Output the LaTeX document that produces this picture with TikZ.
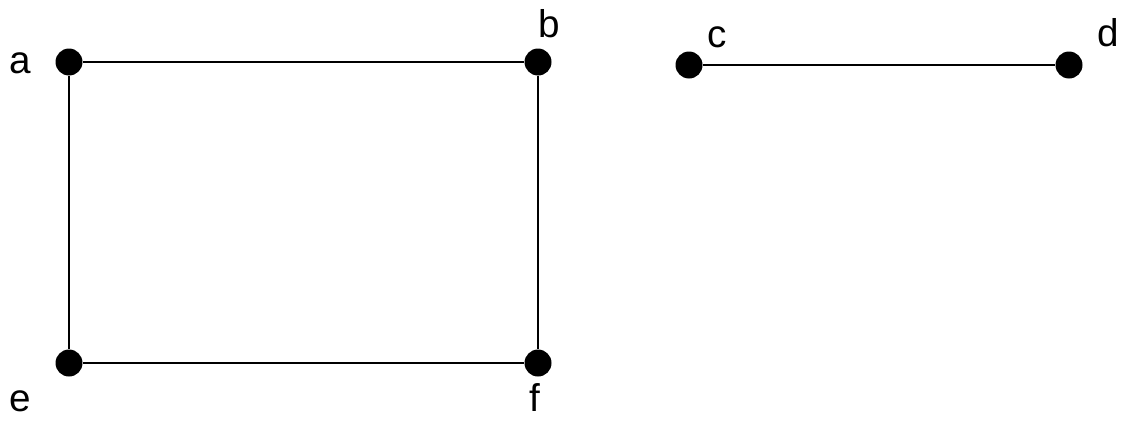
\documentclass[tikz,border=0pt]{standalone}
\usepackage{fontspec}
\setmainfont{Liberation Sans}
\usetikzlibrary{positioning}

\begin{document}
\begin{tikzpicture}[
    x=0.02cm, y=-0.02cm,
    vert/.style = {circle, fill=black, inner sep=0pt, minimum size=0.54cm},
    lbl/.style  = {inner sep=0pt, font=\fontsize{22}{26}\selectfont},
    edge/.style = {line width=1.6pt},
]
\useasboundingbox (0,0) rectangle (1129,420);

% --- vertices ---
\node[vert] (a) at (69,62)   {};
\node[vert] (b) at (538,62)  {};
\node[vert] (c) at (689,65)  {};
\node[vert] (d) at (1069,65) {};
\node[vert] (e) at (69,363)  {};
\node[vert] (f) at (538,363) {};

% --- vertex labels ---
\node[lbl] (la) at (20,63)   {a};
\node[lbl] (lb) at (549,24)  {b};
\node[lbl] (lc) at (717,37)  {c};
\node[lbl] (ld) at (1108,33) {d};
\node[lbl] (le) at (20,401)  {e};
\node[lbl] (lf) at (535,398) {f};

% --- edges ---
\draw[edge] (a) -- (b);
\draw[edge] (a) -- (e);
\draw[edge] (b) -- (f);
\draw[edge] (e) -- (f);
\draw[edge] (c) -- (d);

\end{tikzpicture}
\end{document}
